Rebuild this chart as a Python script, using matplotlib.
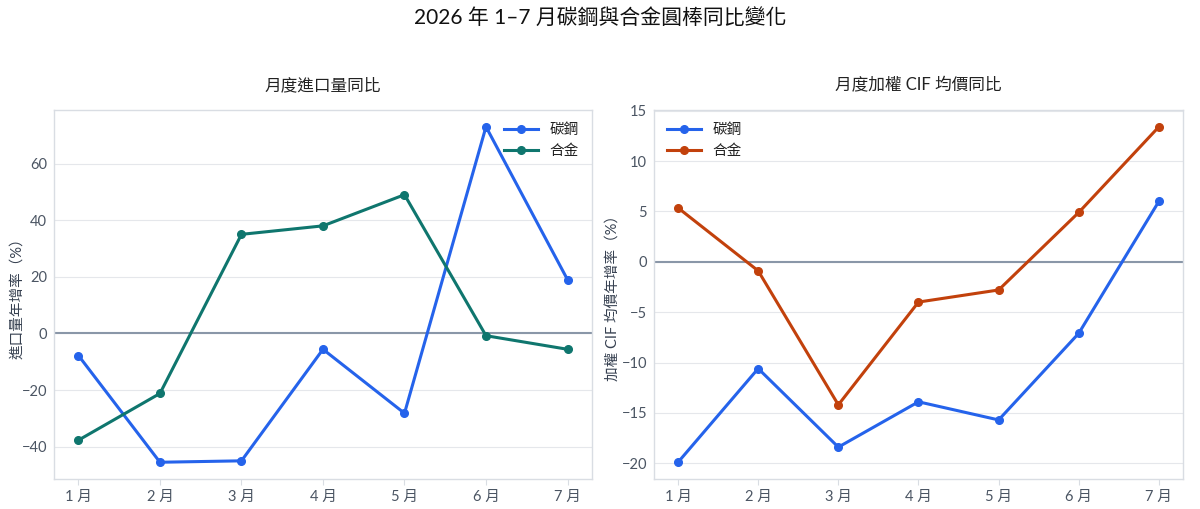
import matplotlib
matplotlib.use("Agg")
import matplotlib.pyplot as plt

plt.rcParams['font.family'] = ['Lato', 'Noto Sans CJK TC', 'DejaVu Sans']

months = ["1 月", "2 月", "3 月", "4 月", "5 月", "6 月", "7 月"]
series_names = ["碳鋼", "合金"]

vol_carbon = [-7.8, -45.5, -45.0, -5.6, -28.2, 73.0, 19.0]
vol_alloy = [-37.7, -21.2, 35.0, 38.0, 49.0, -0.8, -5.6]

price_carbon = [-19.9, -10.6, -18.4, -13.9, -15.7, -7.1, 6.0]
price_alloy = [5.35, -0.9, -14.2, -4.0, -2.8, 4.9, 13.4]

suptitle = "2026 年 1–7 月碳鋼與合金圓棒同比變化"
titles = ["月度進口量同比", "月度加權 CIF 均價同比"]
ylabels = ["進口量年增率（%）", "加權 CIF 均價年增率（%）"]

BLUE = "#2563eb"
GREEN = "#0f766e"
ORANGE = "#c2410c"
GRID = "#e5e7eb"
SPINE = "#d9dde3"
TICK = "#4b5563"
ZERO = "#8a97a8"

fig = plt.figure(figsize=(12, 5.09), dpi=100)
ax1 = fig.add_axes([0.045, 0.0589, 0.4483, 0.725])
ax2 = fig.add_axes([0.545, 0.0589, 0.4408, 0.725])

x = list(range(len(months)))

def style(ax, title, ylabel, legend_loc, label_x):
    ax.set_title(title, fontsize=12, color="#222222", pad=14)
    ax.set_ylabel(ylabel, fontsize=10.5, color="#374151")
    ax.yaxis.set_label_coords(label_x, 0.5)
    ax.set_xticks(x)
    ax.set_xticklabels(months)
    ax.tick_params(axis='x', colors=TICK, labelsize=10.5, length=4, color=SPINE)
    ax.tick_params(axis='y', colors=TICK, labelsize=10.5, length=0, pad=5)
    ax.grid(axis='y', color=GRID, linewidth=0.8)
    ax.set_axisbelow(True)
    for s in ax.spines.values():
        s.set_color(SPINE)
        s.set_linewidth(1.0)
    ax.axhline(0, color=ZERO, linewidth=1.5, zorder=1)
    leg = ax.legend(loc=legend_loc, frameon=False, fontsize=10.5, handlelength=2.3)
    for t in leg.get_texts():
        t.set_color("#222222")

ax1.plot(x, vol_carbon, color=BLUE, marker='o', markersize=5.5, linewidth=2.2, label=series_names[0], zorder=3)
ax1.plot(x, vol_alloy, color=GREEN, marker='o', markersize=5.5, linewidth=2.2, label=series_names[1], zorder=3)
style(ax1, titles[0], ylabels[0], "upper right", -0.056)
ax1.set_yticks([-40, -20, 0, 20, 40, 60])

ax2.plot(x, price_carbon, color=BLUE, marker='o', markersize=5.5, linewidth=2.2, label=series_names[0], zorder=3)
ax2.plot(x, price_alloy, color=ORANGE, marker='o', markersize=5.5, linewidth=2.2, label=series_names[1], zorder=3)
style(ax2, titles[1], ylabels[1], "upper left", -0.064)
ax2.set_yticks([-20, -15, -10, -5, 0, 5, 10, 15])

fig.suptitle(suptitle, fontsize=15, y=0.985, color="#111111")

fig.savefig("out.png", dpi=100)
